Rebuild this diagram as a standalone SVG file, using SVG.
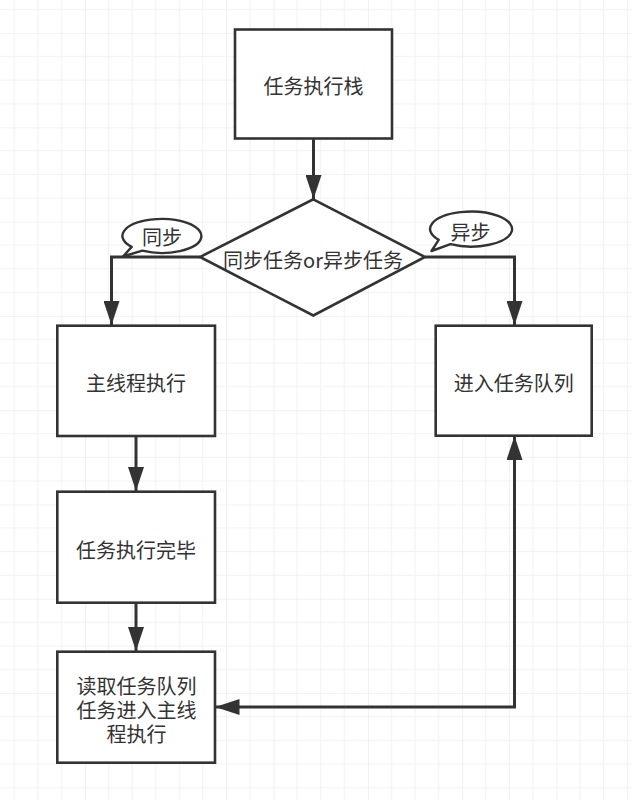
<svg xmlns="http://www.w3.org/2000/svg" width="632" height="800" viewBox="0 0 632 800">
<defs>
<pattern id="grid" patternUnits="userSpaceOnUse" x="85" y="33" width="94.3" height="94.3">
<path d="M23.575,0 V94.3 M47.15,0 V94.3 M70.725,0 V94.3 M0,23.575 H94.3 M0,47.15 H94.3 M0,70.725 H94.3" stroke="#f1f1f1" stroke-width="1" fill="none"/>
<path d="M0,0 V94.3 M0,0 H94.3" stroke="#e6e6e6" stroke-width="1.2" fill="none"/>
</pattern>
<marker id="arr" markerUnits="userSpaceOnUse" markerWidth="24" markerHeight="16" refX="24" refY="8" orient="auto-start-reverse" viewBox="0 0 24 16">
<path d="M0,0 L24,8 L0,16 Z" fill="#333"/>
</marker>
</defs>
<style>
.box{fill:#fff;stroke:#333;stroke-width:2.6}
.lbl{font-family:"Noto Sans CJK SC","Noto Sans",sans-serif;font-size:20px;fill:#333;text-anchor:middle;dominant-baseline:central}
.con{fill:none;stroke:#333;stroke-width:3;marker-end:url(#arr)}
.bub{fill:#fff;stroke:#333;stroke-width:2.4;stroke-linejoin:round}
</style>
<rect x="0" y="0" width="632" height="800" fill="#fff"/>
<rect x="0" y="0" width="632" height="800" fill="url(#grid)"/>

<g id="connectors">
<path class="con" d="M313.5,138.5 V199"/>
<path class="con" d="M200,257 H111.5 V325"/>
<path class="con" d="M425,257 H514.5 V325"/>
<path class="con" d="M136,436 V491"/>
<path class="con" d="M136,603 V651"/>
<path class="con" style="marker-start:url(#arr)" d="M514.5,436 V707 H215.5"/>
</g>

<g id="n_stack">
<rect class="box" x="235" y="29.5" width="157" height="109"/>
<text class="lbl" x="313.5" y="85">任务执行栈</text>
</g>

<g id="n_decision">
<polygon class="box" points="313.3,199.3 425,257 313.3,315.5 200,257"/>
<text class="lbl" x="313" y="259">同步任务or异步任务</text>
</g>

<g id="n_sync_label">
<path class="bub" d="M131.7,246.9 L123,256.5 L142.3,250.7 A39.5,17 0 1 0 131.7,246.9 Z"/>
<text class="lbl" x="162" y="236">同步</text>
</g>

<g id="n_async_label">
<path class="bub" d="M438.7,239.8 L431.5,251 L450.5,244.2 A41,17.5 0 1 0 438.7,239.8 Z"/>
<text class="lbl" x="470.5" y="231">异步</text>
</g>

<g id="n_main">
<rect class="box" x="57.3" y="325.7" width="157.7" height="110.3"/>
<text class="lbl" x="136" y="382">主线程执行</text>
</g>

<g id="n_queue">
<rect class="box" x="435.7" y="325.7" width="156" height="110"/>
<text class="lbl" x="513.7" y="382">进入任务队列</text>
</g>

<g id="n_done">
<rect class="box" x="57.3" y="491.7" width="157.7" height="111"/>
<text class="lbl" x="136" y="549">任务执行完毕</text>
</g>

<g id="n_read">
<rect class="box" x="57.3" y="651.7" width="157.7" height="111"/>
<text class="lbl" x="136.5" y="685">读取任务队列</text>
<text class="lbl" x="136.5" y="709">任务进入主线</text>
<text class="lbl" x="136.5" y="733">程执行</text>
</g>
</svg>
